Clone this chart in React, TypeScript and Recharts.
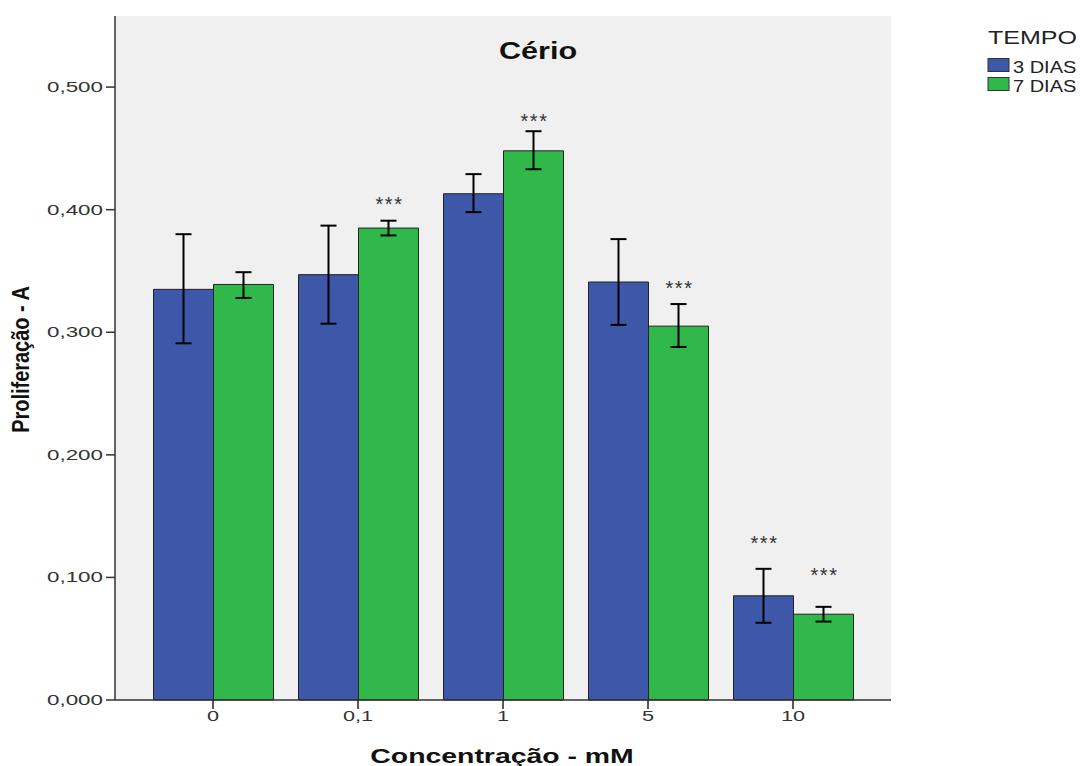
import React from 'react';
import {
  BarChart,
  Bar,
  XAxis,
  YAxis,
  CartesianGrid,
  ErrorBar,
  LabelList,
} from 'recharts';

// Concentração (mM) categories
const categories = ['0', '0,1', '1', '5', '10'];

// 3 DIAS: mean, lower and upper ends of the error bar
const dias3 = [0.335, 0.347, 0.413, 0.341, 0.085];
const dias3Low = [0.291, 0.307, 0.398, 0.306, 0.063];
const dias3High = [0.380, 0.387, 0.429, 0.376, 0.107];

// 7 DIAS
const dias7 = [0.339, 0.385, 0.448, 0.305, 0.070];
const dias7Low = [0.328, 0.379, 0.433, 0.288, 0.064];
const dias7High = [0.349, 0.391, 0.464, 0.323, 0.076];

// height (in axis units) of the "***" markers, null = no marker
const stars3 = [null, null, null, null, 0.131];
const stars7 = [null, 0.408, 0.476, 0.339, 0.105];

const yTicks = [0, 0.1, 0.2, 0.3, 0.4, 0.5];

const series = [
  { key: 'd3', name: '3 DIAS', color: '#3d58a9', star: 's3' },
  { key: 'd7', name: '7 DIAS', color: '#30b84a', star: 's7' },
];

const data = categories.map((cat, i) => ({
  cat,
  d3: dias3[i],
  d3Err: [dias3[i] - dias3Low[i], dias3High[i] - dias3[i]],
  s3: stars3[i],
  d7: dias7[i],
  d7Err: [dias7[i] - dias7Low[i], dias7High[i] - dias7[i]],
  s7: stars7[i],
}));

const FONT = '"Liberation Sans", Arial, Helvetica, sans-serif';

const fmt = (v: number) => v.toFixed(3).replace('.', ',');

const YTick = ({ x, y, payload }: any) => (
  <g transform={`translate(${x},${y})`}>
    <text
      x={0}
      y={0}
      dy={5}
      textAnchor="end"
      fill="#333"
      fontSize={14}
      fontFamily={FONT}
      transform="scale(1.6,1)"
    >
      {fmt(payload.value)}
    </text>
  </g>
);

const XTick = ({ x, y, payload }: any) => (
  <g transform={`translate(${x},${y})`}>
    <text
      x={0}
      y={0}
      dy={10}
      textAnchor="middle"
      fill="#333"
      fontSize={14}
      fontFamily={FONT}
      transform="scale(1.55,1)"
    >
      {payload.value}
    </text>
  </g>
);

// "***" above a bar, placed at the star height stored in the data row
const makeStars = (starKey: string) => (props: any) => {
  const { x, y, width, height, value, index } = props;
  const row: any = data[index];
  if (!row || row[starKey] == null || !value) return null;
  const perUnit = height / value;
  const cy = y + height - row[starKey] * perUnit;
  return (
    <text
      x={x + width / 2 + 1}
      y={cy + 11}
      textAnchor="middle"
      fill="#333"
      fontSize={20}
      letterSpacing={1.5}
      fontFamily={FONT}
    >
      ***
    </text>
  );
};

const Overlay = () => (
  <svg
    width={1080}
    height={766}
    style={{ position: 'absolute', left: 0, top: 0, pointerEvents: 'none' }}
  >
    <text
      transform="translate(538,58.5) scale(1.33,1)"
      textAnchor="middle"
      fontSize={23}
      fontWeight="bold"
      fontFamily={FONT}
      fill="#111"
    >
      Cério
    </text>
    <text
      transform="translate(502,762.5) scale(1.42,1)"
      textAnchor="middle"
      fontSize={20}
      fontWeight="bold"
      fontFamily={FONT}
      fill="#111"
    >
      Concentração - mM
    </text>
    <text
      transform="translate(29,359.5) rotate(-90) scale(1.05,1.3)"
      textAnchor="middle"
      fontSize={19}
      fontWeight="bold"
      fontFamily={FONT}
      fill="#111"
    >
      Proliferação - A
    </text>
    <text
      transform="translate(988,43.5) scale(1.39,1)"
      fontSize={18}
      fontFamily={FONT}
      fill="#222"
    >
      TEMPO
    </text>
    {series.map((s, i) => (
      <g key={s.key}>
        <rect x={988} y={58.5 + i * 19} width={21} height={13} fill={s.color} stroke="#333" />
        <text
          transform={`translate(1013,${72.5 + i * 19}) scale(1.25,1)`}
          fontSize={16}
          fontFamily={FONT}
          fill="#222"
        >
          {s.name}
        </text>
      </g>
    ))}
  </svg>
);

const App = () => {
  return (
    <div style={{ position: 'absolute', left: 0, top: 0, width: 1080, height: 766, background: '#fff' }}>
      <BarChart
        width={1080}
        height={766}
        data={data}
        margin={{ top: 16, right: 189, bottom: 0, left: 0 }}
        barGap={0}
        barSize={60}
      >
        <CartesianGrid fill="#f0f0f0" horizontal={false} vertical={false} />
        <XAxis
          dataKey="cat"
          height={66}
          padding={{ left: 25.5, right: 25.5 }}
          tick={<XTick />}
          tickSize={9}
          tickMargin={2}
          stroke="#333"
          axisLine={{ stroke: '#333', strokeWidth: 1.5 }}
          tickLine={{ stroke: '#222', strokeWidth: 1.5 }}
        />
        <XAxis
          xAxisId="top"
          dataKey="cat"
          orientation="top"
          height={0}
          tick={false}
          tickLine={false}
          axisLine={{ stroke: '#444', strokeWidth: 2 }}
        />
        <YAxis
          domain={[0, 0.558]}
          ticks={yTicks}
          width={115}
          tick={<YTick />}
          tickSize={9}
          tickMargin={3}
          axisLine={{ stroke: '#333', strokeWidth: 1.5 }}
          tickLine={{ stroke: '#333', strokeWidth: 1.5 }}
          interval={0}
        />
        <YAxis
          yAxisId="right"
          orientation="right"
          domain={[0, 0.558]}
          width={0}
          tick={false}
          tickLine={false}
          axisLine={{ stroke: '#444', strokeWidth: 2 }}
        />
        {series.map((s) => (
          <Bar
            key={s.key}
            dataKey={s.key}
            name={s.name}
            fill={s.color}
            stroke="#222"
            strokeWidth={1}
            isAnimationActive={false}
          >
            <ErrorBar
              dataKey={`${s.key}Err`}
              direction="y"
              width={8}
              stroke="#000"
              strokeWidth={2}
              isAnimationActive={false}
            />
            <LabelList dataKey={s.key} content={makeStars(s.star)} />
          </Bar>
        ))}
      </BarChart>
      <Overlay />
    </div>
  );
};

export default App;
